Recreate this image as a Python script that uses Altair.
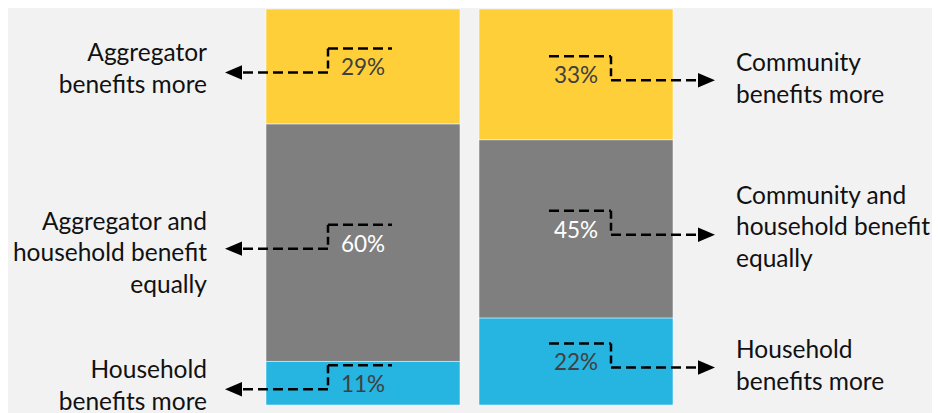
import altair as alt
import pandas as pd

# ---- data ----
bars = ["Aggregator", "Community"]
tiers = ["household", "equal", "other"]
left_labels = ["Household|benefits more", "Aggregator and|household benefit|equally", "Aggregator|benefits more"]
right_labels = ["Household|benefits more", "Community and|household benefit|equally", "Community|benefits more"]
left_values = [11, 60, 29]
right_values = [22, 45, 33]
tier_colors = ["#26B4E0", "#7F7F7F", "#FFCF3A"]

rows = []
for bar, labels, vals in [(bars[0], left_labels, left_values), (bars[1], right_labels, right_values)]:
    start = 0
    for tier, lab, v in zip(tiers, labels, vals):
        rows.append(dict(bar=bar, tier=tier, label=lab, value=v,
                         start=start, end=start + v, mid=start + v / 2, pct=f"{v}%"))
        start += v
df = pd.DataFrame(rows)

FONT = "Lato"
xscale = alt.Scale(domain=bars, range=[258, 665], paddingInner=0.0892, paddingOuter=0)
yscale = alt.Scale(domain=[0, 100], nice=False)
X = alt.X("bar:N", scale=xscale, axis=None, bandPosition=0.5)
X2 = alt.X2("bar:N", bandPosition=0.5)

base = alt.Chart(df)

bar_layer = base.mark_bar(stroke="white", strokeOpacity=0.5, strokeWidth=1).encode(
    x=alt.X("bar:N", scale=xscale, axis=None),
    y=alt.Y("start:Q", scale=yscale, axis=None),
    y2="end:Q",
    color=alt.Color("tier:N", scale=alt.Scale(domain=tiers, range=tier_colors), legend=None),
)

pct_layer = base.mark_text(font=FONT, fontSize=22.5, baseline="middle", align="center", dy=2).encode(
    x=X,
    y=alt.Y("mid:Q", scale=yscale, axis=None),
    text="pct:N",
    color=alt.condition(alt.datum.tier == "equal", alt.value("#FFFFFF"), alt.value("#404040")),
)

DASH = [10, 5]
SW = 2.5
ARROW_L = "M -1 0 L 1 -0.85 L 1 0.85 Z"
ARROW_R = "M 1 0 L -1 -0.85 L -1 0.85 Z"


def side_layers(bar, top_a, top_b, vx, arrow_end, head_off, shape):
    b = base.transform_filter(alt.datum.bar == bar)
    Y = alt.Y("mid:Q", scale=yscale, axis=None)
    top = b.mark_rule(color="black", strokeDash=DASH, strokeWidth=SW,
                      xOffset=top_a, x2Offset=top_b, yOffset=-18).encode(x=X, x2=X2, y=Y)
    vert = b.mark_rule(color="black", strokeDash=[8, 4], strokeWidth=SW,
                       xOffset=vx, yOffset=-18, y2Offset=6).encode(x=X, y=Y, y2="mid:Q")
    horiz = b.mark_rule(color="black", strokeDash=DASH, strokeWidth=SW,
                        xOffset=vx, x2Offset=arrow_end, yOffset=6).encode(x=X, x2=X2, y=Y)
    head = b.mark_point(shape=shape, size=289, filled=True, color="black", opacity=1,
                        xOffset=head_off, yOffset=6).encode(x=X, y=Y)
    return [top, vert, horiz, head]


left_ann = side_layers(bars[0], -35, 29, -35, -122, -129.5, ARROW_L)
right_ann = side_layers(bars[1], -27, 35, 35, 122, 130.5, ARROW_R)

lab_base = base.transform_calculate(
    lines="split(datum.label, '|')", nlines="length(split(datum.label, '|'))"
)


def label_layer(bar, nlines, align, dx, dy):
    return lab_base.transform_filter(
        (alt.datum.bar == bar) & (alt.datum.nlines == nlines)
    ).mark_text(
        font=FONT, fontSize=24.5, align=align, baseline="middle", dx=dx, dy=dy,
        lineHeight=31.5, color="#111111"
    ).encode(x=X, y=alt.Y("mid:Q", scale=yscale, axis=None), text="lines:N")


text_layers = [
    label_layer(bars[0], 2, "right", -156, -12),
    label_layer(bars[0], 3, "right", -156, -20),
    label_layer(bars[1], 2, "left", 160, -10),
    label_layer(bars[1], 3, "left", 160, -32),
]

chart = alt.layer(
    bar_layer, pct_layer, *left_ann, *right_ann, *text_layers
).properties(
    width=924, height=396, padding=0, background="#F2F2F2"
).configure_view(stroke=None)

chart.save("out.html", embed_options={"renderer": "svg", "actions": False})
